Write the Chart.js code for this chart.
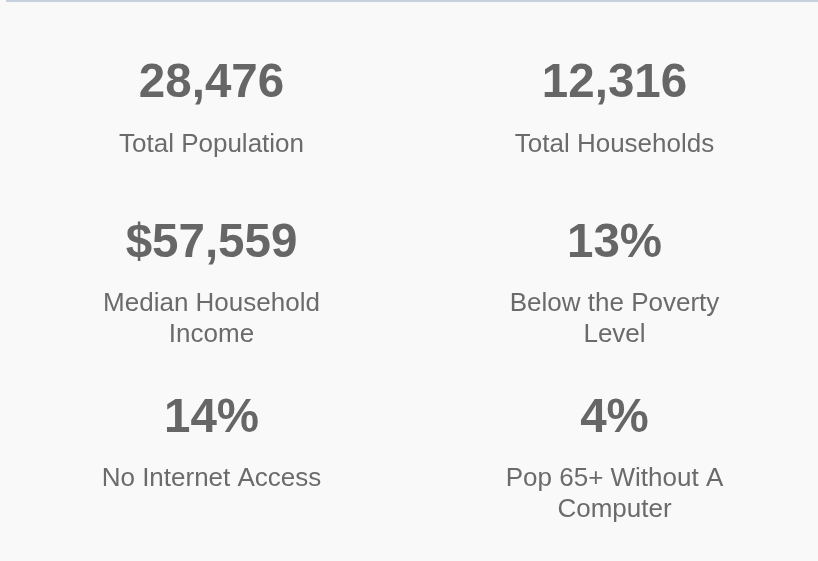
<!DOCTYPE html>
<html>
<head>
<meta charset="utf-8">
<script src="https://cdn.jsdelivr.net/npm/chart.js@4/dist/chart.umd.min.js"></script>
<style>
  html, body { margin: 0; padding: 0; background: #f9f9f9; }
  #wrap { position: relative; width: 818px; height: 561px; background: #f9f9f9; }
  #topline { position: absolute; left: 6px; top: 0; width: 812px; height: 2px; background: #c6d1dd; }
  canvas { position: absolute; left: 0; top: 0; }
</style>
</head>
<body>
<div id="wrap">
  <div id="topline"></div>
  <canvas id="kpi"></canvas>
</div>
<script>
/* KPI tiles — 2 columns x 3 rows, text drawn at each point */

const VALUES = ['28,476', '12,316', '$57,559', '13%', '14%', '4%'];
const LABELS = ['Total Population', 'Total Households', 'Median Household Income',
                'Below the Poverty Level', 'No Internet Access', 'Pop 65+ Without A Computer'];
const COLS = [0, 1, 0, 1, 0, 1];
const ROWS = [0, 0, 1, 1, 2, 2];

const VALUE_COLOR = '#666666';
const LABEL_COLOR = '#6b6b6b';
const FONT = "'Liberation Sans', Arial, Helvetica, sans-serif";
const VALUE_FONT = 'bold 47.5px ' + FONT;
const LABEL_FONT = '26px ' + FONT;
const LINE_H = 31;
const LABEL_GAP = 54.5;   // value baseline -> first label baseline
const MAX_W = 240;

function wrap(ctx, text) {
  const words = text.split(' ');
  const lines = [];
  let cur = '';
  words.forEach(w => {
    const t = cur ? cur + ' ' + w : w;
    if (cur && ctx.measureText(t).width > MAX_W) { lines.push(cur); cur = w; }
    else cur = t;
  });
  if (cur) lines.push(cur);
  return lines;
}

const kpiText = {
  id: 'kpiText',
  afterDatasetsDraw(chart) {
    const ctx = chart.ctx;
    const pts = chart.getDatasetMeta(0).data;
    ctx.save();
    ctx.textAlign = 'center';
    ctx.textBaseline = 'alphabetic';
    ctx.font = LABEL_FONT;
    const wrapped = LABELS.map(l => wrap(ctx, l));
    // tallest cell per row, content centred on the row
    const rowLines = {};
    ROWS.forEach((r, i) => { rowLines[r] = Math.max(rowLines[r] || 1, wrapped[i].length); });
    pts.forEach((p, i) => {
      const base = p.y - (rowLines[ROWS[i]] - 1) * LINE_H / 2;
      ctx.font = VALUE_FONT;
      ctx.fillStyle = VALUE_COLOR;
      ctx.fillText(VALUES[i], p.x, base);
      ctx.font = LABEL_FONT;
      ctx.fillStyle = LABEL_COLOR;
      wrapped[i].forEach((line, k) => ctx.fillText(line, p.x, base + LABEL_GAP + k * LINE_H));
    });
    ctx.restore();
  }
};

new Chart(document.getElementById('kpi').getContext('2d'), {
  type: 'scatter',
  data: {
    datasets: [{
      data: COLS.map((c, i) => ({ x: c, y: ROWS[i] })),
      pointRadius: 0,
      pointHoverRadius: 0
    }]
  },
  options: {
    responsive: true, maintainAspectRatio: false, animation: false,
    layout: { padding: { left: 10, right: 2, top: 9.5, bottom: 26.5 } },
    plugins: { legend: { display: false }, tooltip: { enabled: false } },
    scales: {
      x: { type: 'linear', min: -0.5, max: 1.5, display: false },
      y: { type: 'linear', min: -0.5, max: 2.5, reverse: true, display: false }
    }
  },
  plugins: [kpiText]
});
</script>
</body>
</html>
